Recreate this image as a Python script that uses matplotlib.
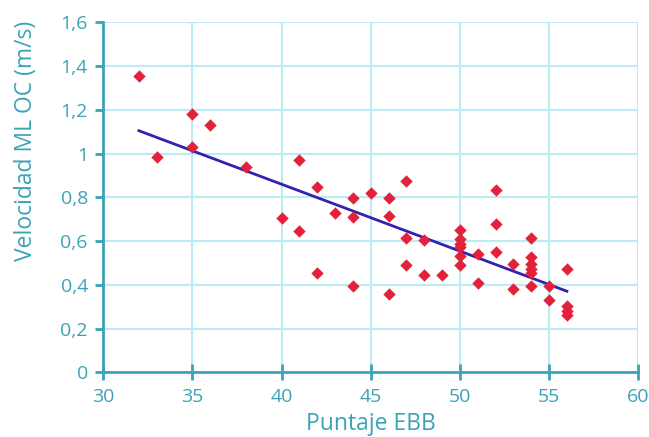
import matplotlib
matplotlib.use('Agg')
import matplotlib.pyplot as plt
import numpy as np

# datos: puntaje EBB vs velocidad ML OC
ebb = [32, 33, 35, 35, 36, 38, 40, 41, 41, 42, 42, 43, 44, 44, 44, 45, 46, 46, 46,
       47, 47, 47, 48, 48, 49, 50, 50, 50, 50, 50, 50, 51, 51, 52, 52, 52, 53, 53,
       54, 54, 54, 54, 54, 54, 55, 55, 56, 56, 56, 56]
vel = [1.355, 0.985, 1.18, 1.03, 1.13, 0.94, 0.705, 0.97, 0.645, 0.85, 0.453, 0.728,
       0.797, 0.71, 0.394, 0.82, 0.797, 0.715, 0.357, 0.875, 0.614, 0.49, 0.605,
       0.444, 0.444, 0.652, 0.611, 0.588, 0.573, 0.534, 0.492, 0.54, 0.408, 0.832,
       0.677, 0.553, 0.495, 0.382, 0.614, 0.53, 0.495, 0.473, 0.453, 0.397, 0.397,
       0.331, 0.473, 0.302, 0.282, 0.264]

xticks = [30, 35, 40, 45, 50, 55, 60]
yticks = [0, 0.2, 0.4, 0.6, 0.8, 1.0, 1.2, 1.4, 1.6]
ylabels = ['0', '0,2', '0,4', '0,6', '0,8', '1', '1,2', '1,4', '1,6']

teal = '#3BA3B8'
plt.rcParams['font.family'] = ['Open Sans', 'DejaVu Sans']

fig = plt.figure(figsize=(6.49, 4.37), dpi=100)
ax = fig.add_axes([0.159, 0.1476, 0.8245, 0.801])

# recta de regresion (minimos cuadrados)
m, b = np.polyfit(ebb, vel, 1)
xl = np.array([min(ebb), max(ebb)])
ax.plot(xl, m * xl + b, color='#3322B0', lw=2, zorder=3)

ax.scatter(ebb, vel, marker='D', s=40, color='#E2213B', zorder=4, linewidths=0)

ax.set_xlim(30, 60)
ax.set_ylim(0, 1.6)
ax.set_xticks(xticks)
ax.set_yticks(yticks)
ax.set_yticklabels(ylabels)
ax.grid(True, color='#BDEBF3', lw=1.5, zorder=0)
ax.set_axisbelow(True)

for s in ['top', 'right']:
    ax.spines[s].set_visible(False)
for s in ['left', 'bottom']:
    ax.spines[s].set_color(teal)
    ax.spines[s].set_linewidth(2)

ax.tick_params(colors=teal, labelsize=14, width=2, labelcolor=teal)
ax.tick_params(axis='y', length=6, pad=5)
ax.tick_params(axis='x', direction='inout', length=11, pad=6)
ax.set_xlabel('Puntaje EBB', color=teal, fontsize=16.5)
ax.set_ylabel('Velocidad ML OC (m/s)', color=teal, fontsize=16.5)
ax.xaxis.set_label_coords(0.5, -0.114)
ax.yaxis.set_label_coords(-0.122, 0.661)

fig.savefig('out.png', dpi=100)
